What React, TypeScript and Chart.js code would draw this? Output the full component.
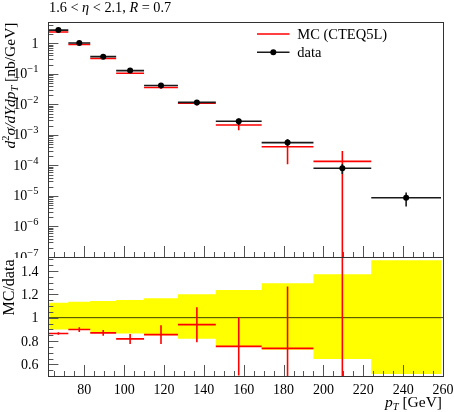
import React, { useEffect, useRef } from 'react';
import { Chart, registerables } from 'chart.js';
Chart.register(...registerables);

// ---- data ----
const binEdges = [62, 72, 83, 96, 110, 127, 146, 169, 195, 224, 259];
const dataValues = [2.71, 1.02, 0.366, 0.128, 0.0416, 0.0116, 0.0028, 5.6e-4, 8.05e-5, 8.7e-6];
// relative data uncertainty (yellow band in the ratio panel)
const dataBandHigh = [1.128, 1.137, 1.142, 1.151, 1.166, 1.2, 1.237, 1.295, 1.372, 1.493];
const dataBandLow = [0.898, 0.9, 0.87, 0.864, 0.85, 0.82, 0.755, 0.726, 0.646, 0.517];
const mcValues: (number | null)[] = [2.35, 0.92, 0.32, 0.105, 0.0357, 0.0109, 0.00211, 4.1e-4, 1.36e-4, null];
const mcErrors: (number | null)[] = [0.023, 0.02, 0.009, 0.0045, 0.003, 0.0017, 7e-4, 3e-4, 1.6e-4, null];
const ratioValues: (number | null)[] = [0.864, 0.898, 0.87, 0.818, 0.855, 0.94, 0.754, 0.737, 1.69, null];
const ratioErrors: (number | null)[] = [0.01, 0.02, 0.025, 0.043, 0.08, 0.15, 0.25, 0.53, 1.2, null];
const xTickLabels = [80, 100, 120, 140, 160, 180, 200, 220, 240, 260];
const yTickExponents = [0, -1, -2, -3, -4, -5, -6, -7];
const ratioTickLabels = [0.6, 0.8, 1, 1.2, 1.4];

// ---- layout ----
const W = 454, H = 412;
const X_MIN = 62, X_MAX = 260, Y_MIN = 1e-7, Y_MAX = 5, R_MIN = 0.5, R_MAX = 1.52;
const PLOT_L = 48.4, PLOT_R = 443, TOP = 22, MID = 257, BOT = 376;
const FONT = '"Liberation Serif", "DejaVu Serif", serif';
const RED = '#ff0000';
const DARK = '#1a1a1a';

type Run = { t: string; it?: boolean; sz?: number; dy?: number };
const fontOf = (r: Run, base: number) => `${r.it ? 'italic ' : ''}${r.sz || base}px ${FONT}`;
function drawRuns(ctx: CanvasRenderingContext2D, runs: Run[], x: number, y: number, base: number, align: 'left' | 'right' | 'center') {
  ctx.textAlign = 'left';
  ctx.textBaseline = 'alphabetic';
  let w = 0;
  for (const r of runs) { ctx.font = fontOf(r, base); w += ctx.measureText(r.t).width; }
  let cx = align === 'right' ? x - w : align === 'center' ? x - w / 2 : x;
  for (const r of runs) {
    ctx.font = fontOf(r, base);
    ctx.fillText(r.t, cx, y + (r.dy || 0));
    cx += ctx.measureText(r.t).width;
  }
}

const centers = binEdges.slice(0, -1).map((e, i) => (e + binEdges[i + 1]) / 2);
const hSeg = (vals: (number | null)[]) =>
  vals.flatMap((v, i) => (v == null ? [] : [{ x: binEdges[i], y: v }, { x: binEdges[i + 1], y: v }, { x: binEdges[i + 1], y: null }]));
const vSeg = (lo: (number | null)[], hi: (number | null)[], floor: number) =>
  lo.flatMap((l, i) => (l == null || hi[i] == null ? [] : [{ x: centers[i], y: Math.max(l, floor) }, { x: centers[i], y: hi[i] as number }, { x: centers[i], y: null }]));

const px = (v: number) => Math.round(v) + 0.5;

const upperPlugin = {
  id: 'upperDecor',
  afterDraw(chart: any) {
    const ctx: CanvasRenderingContext2D = chart.ctx;
    const xs = chart.scales.x, ys = chart.scales.y, a = chart.chartArea;
    ctx.save();
    ctx.strokeStyle = '#555';
    ctx.lineWidth = 1;
    ctx.beginPath();
    for (let e = -7; e <= 0; e++) {
      for (let m = 1; m <= 9; m++) {
        const v = m * Math.pow(10, e);
        if (v < Y_MIN * 0.999 || v > Y_MAX) continue;
        const y = px(ys.getPixelForValue(v));
        ctx.moveTo(a.left, y);
        ctx.lineTo(a.left + (m === 1 ? 10 : 5), y);
      }
    }
    for (let v = 65; v < X_MAX; v += 5) {
      const x = px(xs.getPixelForValue(v));
      ctx.moveTo(x, a.bottom);
      ctx.lineTo(x, a.bottom - (v % 20 === 0 ? 11 : 5));
    }
    ctx.stroke();
    ctx.strokeStyle = '#333';
    ctx.strokeRect(px(a.left), px(a.top), Math.round(a.right) - Math.round(a.left), Math.round(a.bottom) - Math.round(a.top));

    ctx.fillStyle = '#000';
    // y tick labels (the lowest one is cut by the ratio panel)
    ctx.save();
    ctx.beginPath();
    ctx.rect(0, 0, W, a.bottom + 1);
    ctx.clip();
    for (const e of yTickExponents) {
      const y = ys.getPixelForValue(Math.pow(10, e)) + 4.5;
      const runs: Run[] = e === 0 ? [{ t: '1' }] : [{ t: '10' }, { t: '\u2212' + String(-e), sz: 10.5, dy: -6 }];
      drawRuns(ctx, runs, 38.5, y, 14, 'right');
    }
    ctx.restore();

    // title
    drawRuns(ctx, [{ t: '1.6 < ' }, { t: '\u03b7', it: true }, { t: ' < 2.1, ' }, { t: 'R', it: true }, { t: ' = 0.7' }], 49, 12, 14.3, 'left');

    // y axis label
    ctx.save();
    ctx.translate(15, 22.5);
    ctx.rotate(-Math.PI / 2);
    drawRuns(ctx, [
      { t: 'd', it: true }, { t: '2', sz: 10.5, dy: -6 }, { t: '\u03c3/', it: true }, { t: 'dYdp', it: true },
      { t: 'T', it: true, sz: 10.5, dy: 3 }, { t: ' [nb/GeV]' },
    ], 0, 0, 15.5, 'right');
    ctx.restore();

    // legend
    ctx.lineWidth = 1.6;
    ctx.strokeStyle = RED;
    ctx.beginPath(); ctx.moveTo(257, 34); ctx.lineTo(289.5, 34); ctx.stroke();
    ctx.strokeStyle = DARK;
    ctx.beginPath(); ctx.moveTo(257, 52.3); ctx.lineTo(289.5, 52.3); ctx.stroke();
    ctx.fillStyle = '#000';
    ctx.beginPath(); ctx.arc(273.3, 52.3, 3, 0, Math.PI * 2); ctx.fill();
    drawRuns(ctx, [{ t: 'MC (CTEQ5L)' }], 297.3, 38.5, 14.5, 'left');
    drawRuns(ctx, [{ t: 'data' }], 297.3, 56.5, 14.5, 'left');
    ctx.restore();
  },
};

const lowerPlugin = {
  id: 'lowerDecor',
  afterDraw(chart: any) {
    const ctx: CanvasRenderingContext2D = chart.ctx;
    const xs = chart.scales.x, ys = chart.scales.y, a = chart.chartArea;
    ctx.save();
    ctx.strokeStyle = '#555';
    ctx.lineWidth = 1;
    ctx.beginPath();
    for (let k = 11; k <= 30; k++) {
      const v = k * 0.05;
      if (v > R_MAX) continue;
      const y = px(ys.getPixelForValue(v));
      const major = k % 4 === 0 && k >= 12 && k <= 28;
      ctx.moveTo(a.left, y);
      ctx.lineTo(a.left + (major ? 10 : 5), y);
    }
    for (let v = 65; v < X_MAX; v += 5) {
      const x = px(xs.getPixelForValue(v));
      ctx.moveTo(x, a.bottom);
      ctx.lineTo(x, a.bottom - (v % 20 === 0 ? 11 : 5));
    }
    ctx.stroke();
    ctx.strokeStyle = '#333';
    ctx.strokeRect(px(a.left), px(a.top), Math.round(a.right) - Math.round(a.left), Math.round(a.bottom) - Math.round(a.top));

    ctx.fillStyle = '#000';
    for (const v of ratioTickLabels) {
      const y = ys.getPixelForValue(v) + 4.5;
      drawRuns(ctx, [{ t: String(v) }], 38.5, y, 14, 'right');
    }
    for (const v of xTickLabels) {
      drawRuns(ctx, [{ t: String(v) }], xs.getPixelForValue(v), 393.5, 14, 'center');
    }
    drawRuns(ctx, [{ t: 'p', it: true }, { t: 'T', it: true, sz: 10.5, dy: 3 }, { t: ' [GeV]' }], 442, 407, 15.5, 'right');

    ctx.save();
    ctx.translate(13.5, a.top + 2.5);
    ctx.rotate(-Math.PI / 2);
    drawRuns(ctx, [{ t: 'MC/data' }], 0, 0, 16, 'right');
    ctx.restore();
    ctx.restore();
  },
};

const lineDs = (label: string, data: any[], color: string, width: number, order: number, extra: any = {}) => ({
  label, data, borderColor: color, borderWidth: width, pointRadius: 0, showLine: true, spanGaps: false,
  fill: false, tension: 0, order, ...extra,
});

export default function App() {
  const topRef = useRef<HTMLCanvasElement>(null);
  const botRef = useRef<HTMLCanvasElement>(null);

  useEffect(() => {
    const common = {
      animation: false as const,
      responsive: false,
      maintainAspectRatio: false,
      devicePixelRatio: 1,
      events: [] as any[],
      plugins: { legend: { display: false }, tooltip: { enabled: false } },
    };

    const dataLo = dataValues.map((v, i) => v * dataBandLow[i]);
    const dataHi = dataValues.map((v, i) => v * dataBandHigh[i]);
    const mcLo = mcValues.map((v, i) => (v == null ? null : v - (mcErrors[i] as number)));
    const mcHi = mcValues.map((v, i) => (v == null ? null : v + (mcErrors[i] as number)));

    const upper = new Chart(topRef.current as HTMLCanvasElement, {
      type: 'line',
      data: {
        datasets: [
          lineDs('MC (CTEQ5L)', hSeg(mcValues), RED, 1.6, 5),
          lineDs('MC err', vSeg(mcLo, mcHi, Y_MIN / 10), RED, 1.6, 4),
          lineDs('data bins', hSeg(dataValues), DARK, 1.6, 3),
          lineDs('data err', vSeg(dataLo, dataHi, Y_MIN / 10), DARK, 1.6, 2),
          {
            label: 'data', data: dataValues.map((v, i) => ({ x: centers[i], y: v })), showLine: false,
            pointRadius: 3, pointBackgroundColor: '#000', pointBorderWidth: 0, borderColor: '#000', order: 1,
          },
        ] as any,
      },
      options: {
        ...common,
        layout: { padding: { left: PLOT_L, right: W - PLOT_R, top: TOP, bottom: H - MID } },
        scales: {
          x: { type: 'linear', min: X_MIN, max: X_MAX, display: false },
          y: { type: 'logarithmic', min: Y_MIN, max: Y_MAX, display: false },
        },
      } as any,
      plugins: [upperPlugin],
    });

    const rLo = ratioValues.map((v, i) => (v == null ? null : v - (ratioErrors[i] as number)));
    const rHi = ratioValues.map((v, i) => (v == null ? null : v + (ratioErrors[i] as number)));
    const bandTop = dataBandHigh.map((v, i) => ({ x: binEdges[i], y: v })).concat([{ x: binEdges[binEdges.length - 1], y: dataBandHigh[dataBandHigh.length - 1] }]);
    const bandBot = dataBandLow.map((v, i) => ({ x: binEdges[i], y: v })).concat([{ x: binEdges[binEdges.length - 1], y: dataBandLow[dataBandLow.length - 1] }]);

    const lower = new Chart(botRef.current as HTMLCanvasElement, {
      type: 'line',
      data: {
        datasets: [
          lineDs('band hi', bandTop, 'rgba(0,0,0,0)', 0, 10, { stepped: true, fill: '+1', backgroundColor: '#ffff00' }),
          lineDs('band lo', bandBot, 'rgba(0,0,0,0)', 0, 11, { stepped: true }),
          lineDs('unity', [{ x: X_MIN, y: 1 }, { x: X_MAX, y: 1 }], 'rgba(40,40,0,0.9)', 1, 5),
          lineDs('ratio', hSeg(ratioValues), RED, 1.6, 2),
          lineDs('ratio err', vSeg(rLo, rHi, -10), RED, 1.6, 1),
        ] as any,
      },
      options: {
        ...common,
        layout: { padding: { left: PLOT_L, right: W - PLOT_R, top: MID, bottom: H - BOT } },
        scales: {
          x: { type: 'linear', min: X_MIN, max: X_MAX, display: false },
          y: { type: 'linear', min: R_MIN, max: R_MAX, display: false },
        },
      } as any,
      plugins: [lowerPlugin],
    });

    return () => {
      upper.destroy();
      lower.destroy();
    };
  }, []);

  return (
    <div style={{ position: 'fixed', left: 0, top: 0, width: W, height: H, background: '#fff' }}>
      <canvas ref={botRef} width={W} height={H} style={{ position: 'absolute', left: 0, top: 0 }} />
      <canvas ref={topRef} width={W} height={H} style={{ position: 'absolute', left: 0, top: 0 }} />
    </div>
  );
}
